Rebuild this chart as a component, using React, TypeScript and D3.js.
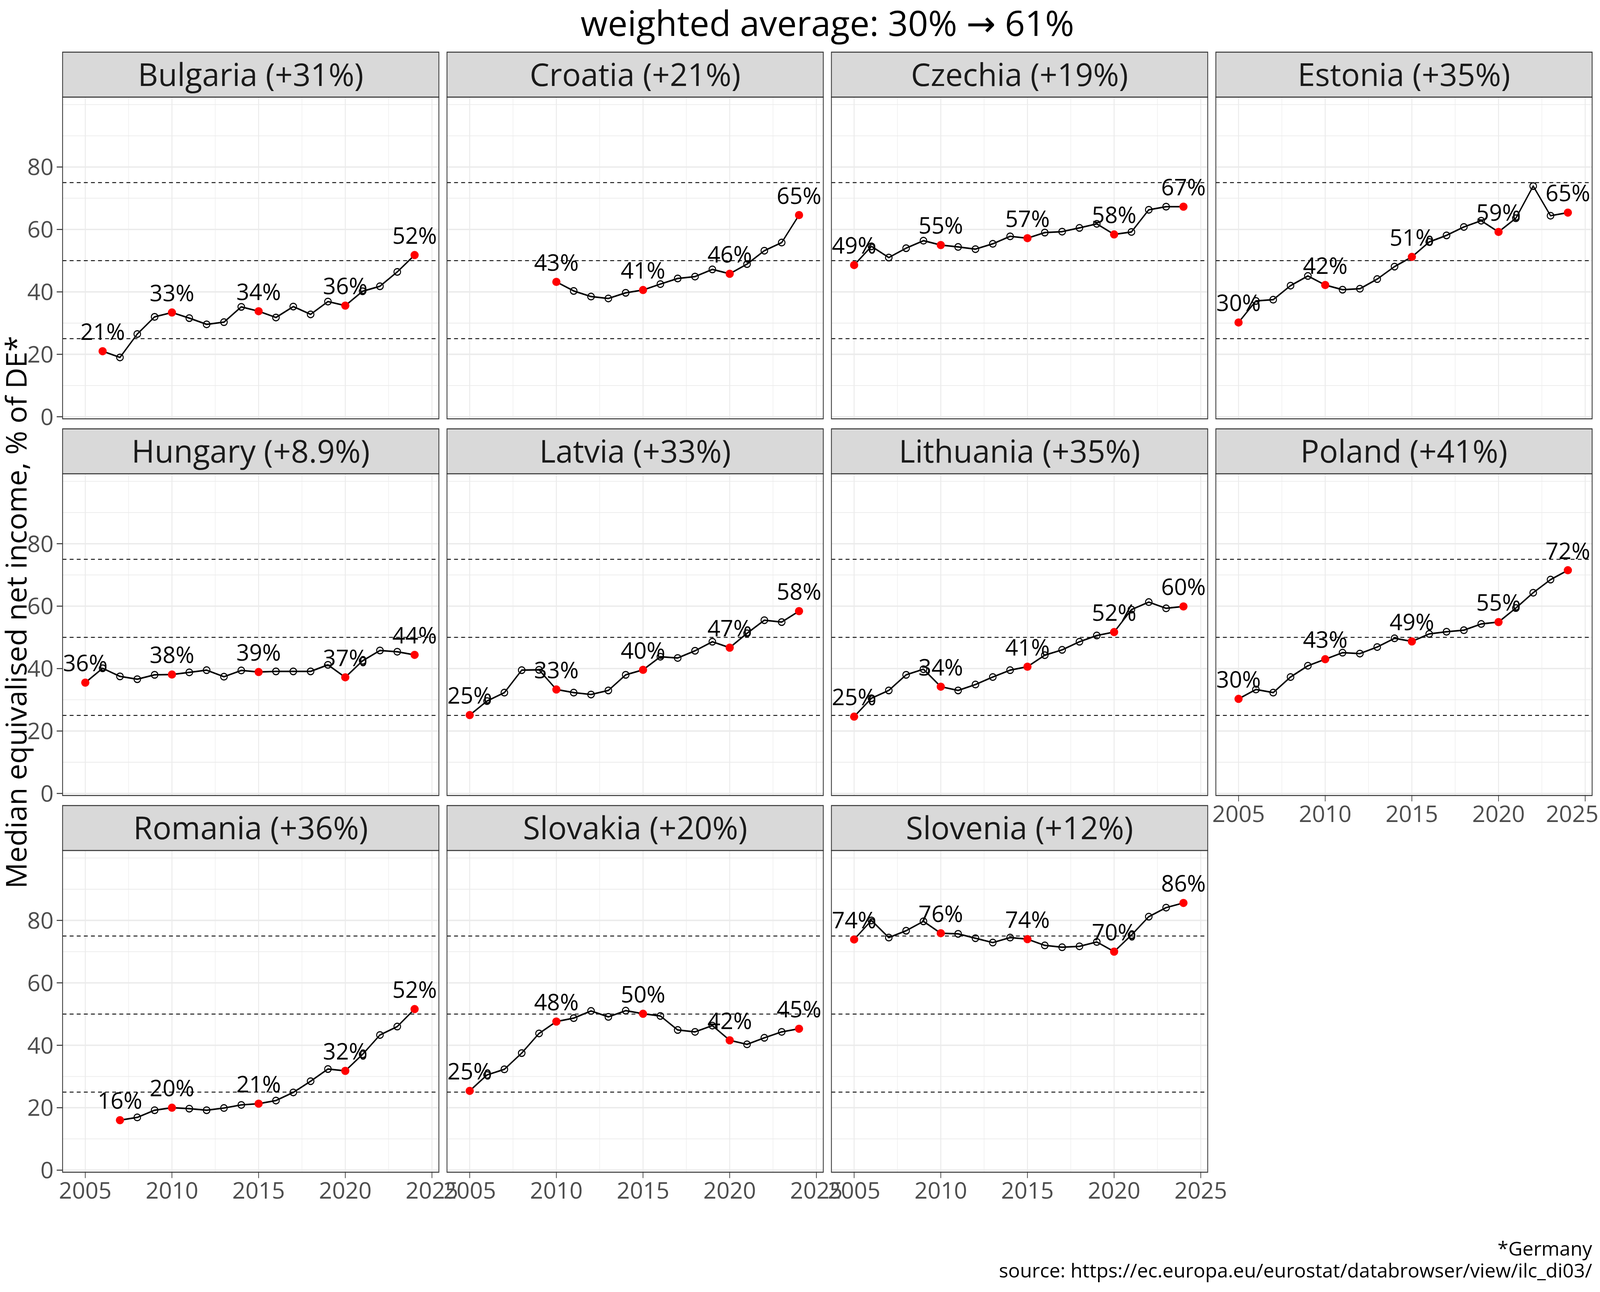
import React, { useEffect, useState } from "react";
import * as d3 from "d3";

// ---------- data ----------
const years = [2005, 2006, 2007, 2008, 2009, 2010, 2011, 2012, 2013, 2014, 2015, 2016, 2017, 2018, 2019, 2020, 2021, 2022, 2023, 2024];

const countries = ["Bulgaria", "Croatia", "Czechia", "Estonia", "Hungary", "Latvia", "Lithuania", "Poland", "Romania", "Slovakia", "Slovenia"];
const changeLabels = ["+31%", "+21%", "+19%", "+35%", "+8.9%", "+33%", "+35%", "+41%", "+36%", "+20%", "+12%"];

const bulgaria = [null, 21.0, 19.0, 26.5, 32.0, 33.4, 31.6, 29.6, 30.3, 35.2, 33.8, 31.8, 35.3, 32.8, 36.9, 35.6, 40.2, 41.8, 46.4, 51.8];
const croatia = [null, null, null, null, null, 43.2, 40.3, 38.5, 37.9, 39.7, 40.6, 42.5, 44.3, 44.9, 47.2, 45.8, 48.9, 53.2, 55.8, 64.6];
const czechia = [48.6, 54.6, 51.0, 54.0, 56.4, 55.0, 54.4, 53.7, 55.4, 57.8, 57.2, 59.0, 59.3, 60.5, 61.8, 58.4, 59.2, 66.3, 67.3, 67.3];
const estonia = [30.2, 37.1, 37.5, 42.0, 45.1, 42.2, 40.7, 41.0, 44.1, 48.1, 51.2, 56.0, 58.1, 60.8, 62.8, 59.2, 63.6, 73.9, 64.4, 65.4];
const hungary = [35.5, 40.1, 37.5, 36.6, 38.0, 38.1, 38.8, 39.5, 37.4, 39.4, 38.9, 39.1, 39.1, 39.1, 41.2, 37.2, 42.5, 45.8, 45.4, 44.4];
const latvia = [25.1, 29.6, 32.3, 39.5, 39.6, 33.3, 32.3, 31.7, 33.0, 38.0, 39.6, 43.8, 43.4, 45.7, 48.6, 46.7, 51.3, 55.5, 54.9, 58.4];
const lithuania = [24.6, 30.5, 33.0, 38.0, 39.8, 34.2, 33.0, 34.9, 37.3, 39.5, 40.6, 44.3, 46.0, 48.6, 50.6, 51.7, 58.9, 61.3, 59.3, 59.9];
const poland = [30.3, 33.3, 32.3, 37.3, 40.9, 43.0, 45.1, 44.8, 46.9, 49.7, 48.7, 51.1, 51.8, 52.3, 54.3, 54.9, 59.4, 64.3, 68.5, 71.5];
const romania = [null, null, 16.0, 16.9, 19.2, 20.0, 19.7, 19.2, 19.9, 20.9, 21.3, 22.3, 24.9, 28.5, 32.4, 31.8, 37.1, 43.3, 46.0, 51.6];
const slovakia = [25.4, 30.5, 32.3, 37.5, 43.8, 47.6, 48.7, 51.0, 49.1, 51.1, 50.1, 49.4, 44.9, 44.3, 46.3, 41.6, 40.3, 42.4, 44.3, 45.3];
const slovenia = [73.9, 80.0, 74.5, 76.7, 79.7, 75.9, 75.7, 74.3, 72.9, 74.5, 74.0, 72.0, 71.4, 71.7, 73.1, 70.0, 75.3, 81.2, 84.1, 85.6];

const seriesValues = [bulgaria, croatia, czechia, estonia, hungary, latvia, lithuania, poland, romania, slovakia, slovenia];

const highlightYears = [2010, 2015, 2020, 2024];
const referenceLines = [25, 50, 75];
const yTicks = [0, 20, 40, 60, 80];
const yMinor = [10, 30, 50, 70, 90, 100];
const xTicks = [2005, 2010, 2015, 2020, 2025];
const xMinor = [2007.5, 2012.5, 2017.5, 2022.5];

const titleText = "weighted average: 30% \u2192 61%";
const yTitle = "Median equivalised net income, % of DE*";
const captionLines = ["*Germany", "source: https://ec.europa.eu/eurostat/databrowser/view/ilc_di03/"];

// ---------- layout ----------
const W = 4960;
const H = 3307;
const FONT = "'Open Sans', 'Noto Sans', 'DejaVu Sans', sans-serif";
const panelLeft0 = 194;
const colPitch = 1191.7;
const panelW = 1166.5;
const stripTop0 = 133.5;
const rowPitch = 964.2;
const stripH = 115;
const panelH = 823.5;
const tickSize = 59;

type TProps = {
  x: number;
  y: number;
  k: number;
  size: number;
  anchor?: "start" | "middle" | "end";
  fill?: string;
  rotate?: number;
  children: React.ReactNode;
};

// text kept undistorted when the viewport aspect differs from the chart's
function T({ x, y, k, size, anchor = "middle", fill = "#000000", rotate = 0, children }: TProps) {
  return (
    <text
      transform={`translate(${x},${y}) scale(${k},1)${rotate ? ` rotate(${rotate})` : ""}`}
      textAnchor={anchor}
      fontFamily={FONT}
      fontSize={size}
      fill={fill}
    >
      {children}
    </text>
  );
}

function Panel({ idx, k }: { idx: number; k: number }) {
  const col = idx % 4;
  const row = Math.floor(idx / 4);
  const left = panelLeft0 + col * colPitch;
  const stripTop = stripTop0 + row * rowPitch;
  const top = stripTop + stripH;
  const bottom = top + panelH;
  const right = left + panelW;

  const x = d3.scaleLinear().domain([2003.69, 2025.4]).range([left, right]);
  const y = d3.scaleLinear().domain([-0.66, 102.4]).range([bottom, top]);

  const vals = seriesValues[idx];
  const pts = years
    .map((yr, i) => ({ yr, v: vals[i] }))
    .filter((d) => d.v !== null) as { yr: number; v: number }[];
  const firstYear = pts[0].yr;
  const isHi = (yr: number) => yr === firstYear || highlightYears.includes(yr);

  const line = d3
    .line<{ yr: number; v: number }>()
    .x((d) => x(d.yr))
    .y((d) => y(d.v));

  const showY = col === 0;
  const showX = row === 2 || (row === 1 && col === 3);
  const clipId = `clip${idx}`;
  const vw = 1 / k; // compensate vertical-line widths
  const halfTickLabel = (tickSize * 2.3 * k) / 2;
  const tickLabelX = (t: number) => Math.min(x(t), W - 4 - halfTickLabel);

  return (
    <g>
      <defs>
        <clipPath id={clipId}>
          <rect x={left} y={top} width={panelW} height={panelH} />
        </clipPath>
      </defs>
      <rect x={left} y={top} width={panelW} height={panelH} fill="#FFFFFF" />
      <g clipPath={`url(#${clipId})`}>
        {yMinor.map((t) => (
          <line key={"ym" + t} x1={left} x2={right} y1={y(t)} y2={y(t)} stroke="#EBEBEB" strokeWidth={1.8} />
        ))}
        {xMinor.map((t) => (
          <line key={"xm" + t} x1={x(t)} x2={x(t)} y1={top} y2={bottom} stroke="#EBEBEB" strokeWidth={1.8 * vw} />
        ))}
        {yTicks.map((t) => (
          <line key={"yM" + t} x1={left} x2={right} y1={y(t)} y2={y(t)} stroke="#EBEBEB" strokeWidth={3.6} />
        ))}
        {xTicks.map((t) => (
          <line key={"xM" + t} x1={x(t)} x2={x(t)} y1={top} y2={bottom} stroke="#EBEBEB" strokeWidth={3.6 * vw} />
        ))}
        {referenceLines.map((r) => (
          <line key={"r" + r} x1={left} x2={right} y1={y(r)} y2={y(r)} stroke="#000000" strokeWidth={2.2} strokeDasharray="12 10" />
        ))}
        <path d={line(pts) || ""} fill="none" stroke="#000000" strokeWidth={4} strokeLinejoin="round" />
        {pts
          .filter((d) => !isHi(d.yr))
          .map((d) => (
            <ellipse key={"o" + d.yr} cx={x(d.yr)} cy={y(d.v)} rx={8.5 * k} ry={8.5} fill="none" stroke="#000000" strokeWidth={3} />
          ))}
        {pts
          .filter((d) => isHi(d.yr))
          .map((d) => (
            <ellipse key={"h" + d.yr} cx={x(d.yr)} cy={y(d.v)} rx={10.5 * k} ry={10.5} fill="#FF0000" />
          ))}
      </g>
      {pts
        .filter((d) => isHi(d.yr))
        .map((d) => (
          <T key={"t" + d.yr} x={x(d.yr)} y={y(d.v) - 29} k={k} size={58}>
            {Math.round(d.v) + "%"}
          </T>
        ))}
      <rect x={left} y={top} width={panelW} height={panelH} fill="none" stroke="#333333" strokeWidth={2.5} />
      <rect x={left} y={stripTop} width={panelW} height={stripH} fill="#D9D9D9" stroke="#333333" strokeWidth={2.5} />
      <T x={(left + right) / 2} y={stripTop + 86.5} k={k} size={80} fill="#1A1A1A">
        {`${countries[idx]} (${changeLabels[idx]})`}
      </T>
      {showY &&
        yTicks.map((t) => (
          <g key={"yt" + t}>
            <line x1={left - 15 * k} x2={left} y1={y(t)} y2={y(t)} stroke="#333333" strokeWidth={2.5} />
            <T x={left - 23 * k} y={y(t) + 21} k={k} size={tickSize} anchor="end" fill="#4D4D4D">
              {t}
            </T>
          </g>
        ))}
      {showX &&
        xTicks.map((t) => (
          <g key={"xt" + t}>
            <line x1={x(t)} x2={x(t)} y1={bottom} y2={bottom + 15} stroke="#333333" strokeWidth={2.5 * vw} />
            <T x={tickLabelX(t)} y={bottom + 68} k={k} size={tickSize} fill="#4D4D4D">
              {t}
            </T>
          </g>
        ))}
    </g>
  );
}

function useViewport() {
  const read = () => ({
    w: typeof window !== "undefined" && window.innerWidth ? window.innerWidth : W,
    h: typeof window !== "undefined" && window.innerHeight ? window.innerHeight : H,
  });
  const [vp, setVp] = useState(read);
  useEffect(() => {
    const on = () => setVp(read());
    window.addEventListener("resize", on);
    on();
    return () => window.removeEventListener("resize", on);
  }, []);
  return vp;
}

export default function App() {
  const vp = useViewport();
  const k = (vp.h / H) / (vp.w / W);
  const plotTop = stripTop0;
  const plotBottom = stripTop0 + 2 * rowPitch + stripH + panelH;
  const plotRight = panelLeft0 + 3 * colPitch + panelW;
  const yMid = (plotTop + plotBottom) / 2;
  return (
    <svg
      width={vp.w}
      height={vp.h}
      viewBox={`0 0 ${W} ${H}`}
      preserveAspectRatio="none"
      style={{ position: "fixed", left: 0, top: 0, background: "#FFFFFF", display: "block" }}
    >
      <rect x={0} y={0} width={W} height={H} fill="#FFFFFF" />
      <T x={(panelLeft0 + plotRight) / 2} y={92} k={k} size={90}>
        {titleText}
      </T>
      <T x={49.5 + 27.5 * k} y={yMid} k={k} size={74} rotate={-90}>
        {yTitle}
      </T>
      {countries.map((c, i) => (
        <Panel key={c} idx={i} k={k} />
      ))}
      {captionLines.map((c, i) => (
        <T key={i} x={plotRight} y={3214 + i * 56} k={k} size={50} anchor="end">
          {c}
        </T>
      ))}
    </svg>
  );
}
